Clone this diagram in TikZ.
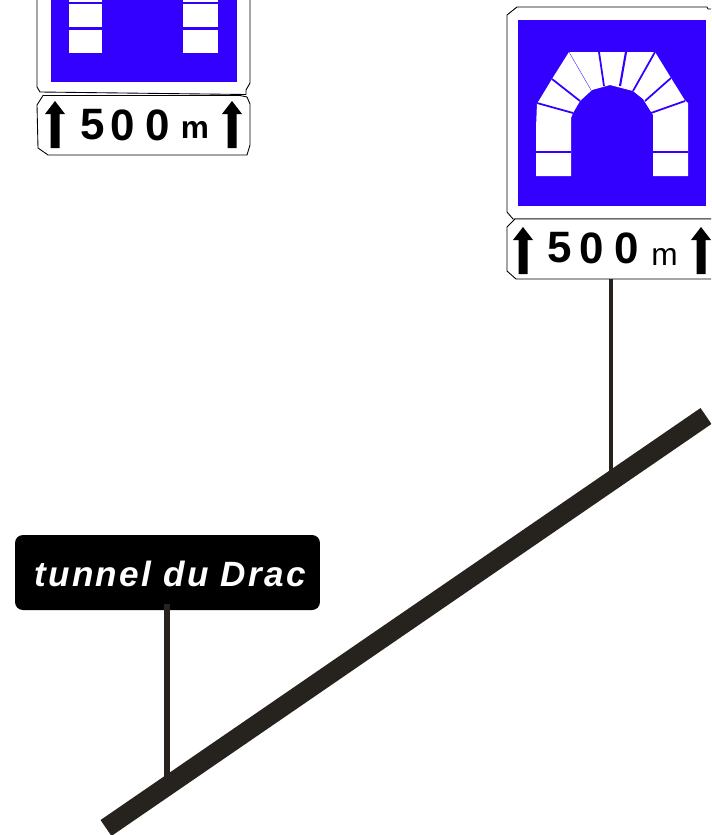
\documentclass[tikz,border=0pt]{standalone}
\usepackage{xcolor}
\usepackage{fontspec}
\setmainfont{Liberation Sans}
\newfontfamily\platefont[LetterSpace=6.5]{Liberation Sans}
\usetikzlibrary{positioning}

\definecolor{signblue}{HTML}{3300FF}
\definecolor{roadgrey}{HTML}{26221E}

\tikzset{
    panel/.style={
        draw=black,
        line width=0.5pt,
        fill=white
    },
    bluefield/.style={
        fill=signblue
    },
    stone/.style={
        fill=white
    },
    joint/.style={
        draw=signblue,
        line width=1pt
    },
    digit/.style={
        font=\fontsize{25}{25}\selectfont\bfseries,
        inner sep=0pt
    },
    pole/.style={
        draw=roadgrey,
        line width=2.8pt
    }
}

\begin{document}
\begin{tikzpicture}[x=0.02cm,y=-0.02cm]
    \path[use as bounding box,clip] (0,0) rectangle (711,835);

    % left sign
    \draw[panel] (37,-10) -- (37,87) -- (40,92) -- (246,94.5) -- (246,90) -- (250,83) -- (250,-10);
    \fill[bluefield] (51,-10) rectangle (237,82);
    \foreach \bx/\bw in {69/33,183/35} {
        \fill[stone] (\bx,-10) rectangle ++(\bw,12.5);
        \fill[stone] (\bx,4) rectangle ++(\bw,23);
        \fill[stone] (\bx,30) rectangle ++(\bw,23);
    }
    \draw[panel] (43,95.5) -- (240,95.5) -- (247,97) -- (250,104) -- (250,145) -- (247,155)
        -- (48,155) -- (38,148) -- (37,105) -- cycle;
    \node[digit] (fiveA) at (92.5,125) {5};
    \node[digit] (zeroA) at (122.5,125) {0};
    \node[digit] (zeroB) at (157.5,125) {0};
    \node[digit,font=\fontsize{18}{18}\selectfont\bfseries,anchor=base] (metreA) at (195,138) {m};

    % right sign
    \draw[panel] (517,7) -- (707,7) -- (708,9) -- (720,9) -- (720,219) -- (513,219) -- (507,212) -- (507,15) -- cycle;
    \fill[bluefield] (518,20) rectangle (706,206);
    \fill[stone] (536,176) -- (536,128) -- (537,103) -- (539,100.5) -- (552,79) -- (569,52) -- (655,52)
        -- (671,78) -- (685,100.5) -- (688,103) -- (688,176) -- (653,176) -- (653,115) -- (648,107)
        -- (643,99) -- (633,91) -- (610,85) -- (592,90) -- (580,101) -- (573,113) -- (571,118) -- (571,176) -- cycle;
    \draw[joint] (536,152) -- (571,152);
    \draw[joint] (653,152) -- (688,152);
    \draw[joint] (537,103) -- (573,113);
    \draw[joint] (552,79) -- (580,101);
    \draw[joint,line width=0.2pt] (569,52) -- (591,90);
    \draw[joint] (599,52) -- (604,86);
    \draw[joint,line width=1.2pt] (626,52) -- (620,86);
    \draw[joint] (655,52) -- (633,91);
    \draw[joint] (671,78) -- (645,101);
    \draw[joint] (685,101) -- (651,113);
    \draw[panel] (515,219) -- (720,219) -- (720,279) -- (516,279) -- (507,271) -- (507,227) -- cycle;
    \node[digit] (fiveB) at (560,248) {5};
    \node[digit] (zeroC) at (592,248) {0};
    \node[digit] (zeroD) at (627,248) {0};
    \node[digit,font=\fontsize{18}{18}\selectfont,anchor=base] (metreB) at (664.5,265) {m};

    % arrows on the two small panels
    \foreach \ax/\ay in {55/101,232/101,523/227,701/227} {
        \fill[black] (\ax,\ay) -- ++(10,13) -- ++(-5.5,0) -- ++(0,34) -- ++(-9,0) -- ++(0,-34) -- ++(-5.5,0) -- cycle;
    }

    % name plate
    \node[
        fill=black,
        rounded corners=4.5pt,
        minimum width=6.1cm,
        minimum height=1.5cm,
        inner sep=0pt
        ] (plate) at (167.5,572.5) {};
    \node[
        text=white,
        inner sep=0pt,
        font=\platefont\fontsize{20}{20}\selectfont\bfseries\itshape
        ] (platetext) at (170,574) {tunnel du Drac};

    % road and poles
    \coordinate (poletopA) at (167,604);
    \coordinate (polefootA) at (167,785);
    \coordinate (poletopB) at (611,279);
    \coordinate (polefootB) at (611,481);
    \coordinate (roadstart) at (106,828);
    \coordinate (roadend) at (706,416);

    \draw[pole,line width=3.6pt] (poletopA) -- (polefootA);
    \draw[pole] (poletopB) -- (polefootB);
    \draw[roadgrey,line width=11pt] (roadstart) -- (roadend);
\end{tikzpicture}
\end{document}
